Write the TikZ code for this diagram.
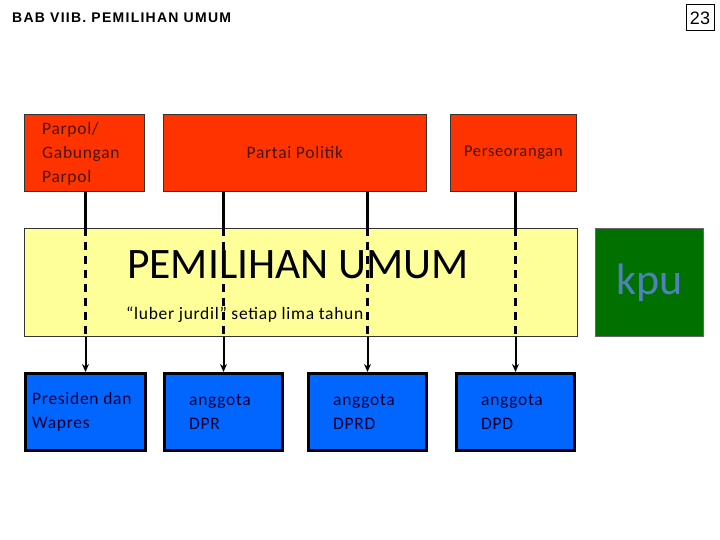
\documentclass[tikz,border=0pt]{standalone}
\usepackage{fontspec}
\setmainfont{Carlito}[LetterSpace=4]
\newfontfamily\bigfont{Carlito}
\newfontfamily\titlefont{Liberation Sans}[LetterSpace=9]
\newfontfamily\pagefont{Liberation Sans}
\usepackage{xcolor}
\usetikzlibrary{positioning,arrows.meta}
\definecolor{partyred}{HTML}{FF3300}
\definecolor{pemiluyellow}{HTML}{FFFF99}
\definecolor{kpugreen}{HTML}{007000}
\definecolor{kpublue}{HTML}{4F81BD}
\definecolor{seatblue}{HTML}{0066FF}
\definecolor{redtext}{HTML}{4A1400}
\tikzset{
  src/.style={draw=black!80, fill=partyred, line width=0.8pt, minimum height=77pt, anchor=north west, inner sep=0pt, font=\fontsize{17.5}{24}\selectfont, text=redtext},
  seat/.style={draw=black, fill=seatblue, line width=3pt, minimum width=118pt, minimum height=77pt, anchor=north west, inner sep=0pt},
  feed/.style={line width=3pt},
  inbox/.style={line width=3pt, dash pattern=on 8pt off 6pt},
  outarr/.style={line width=2pt, -{Stealth[length=8pt,width=7pt]}},
  lbl/.style={inner sep=0pt, anchor=west, align=left, font=\fontsize{17.5}{24}\selectfont},
  seatlbl/.style={lbl, text=black!80!blue}
}
\begin{document}
\begin{tikzpicture}[x=1pt,y=-1pt]
  \useasboundingbox (0,0) rectangle (720,540);
  % header
  \node[anchor=west, inner sep=0pt, font=\titlefont\bfseries\fontsize{14}{14}\selectfont] (title) at (12,18) {BAB VIIB. PEMILIHAN UMUM};
  \node[draw=black, line width=1pt, minimum width=28pt, minimum height=26pt, inner sep=0pt, font=\pagefont\fontsize{18}{20}\selectfont] (page) at (700,18) {23};
  % sources
  \node[src, minimum width=120pt] (gab) at (24,114) {};
  \node[lbl, text=redtext] (gabtxt) at (42,154) {Parpol/\\Gabungan\\Parpol};
  \node[src, minimum width=263pt] (partai) at (163,114) {Partai Politik};
  \node[src, minimum width=126pt, font=\fontsize{16.5}{20}\selectfont] (orang) at (450,114) {Perseorangan};
  % election
  \node[draw=black!80, fill=pemiluyellow, line width=0.8pt, minimum width=553pt, minimum height=108pt, anchor=north west] (pemilu) at (24,228) {};
  \node[lbl, font=\bigfont\fontsize{43.5}{50}\selectfont] (judul) at (127,265) {PEMILIHAN UMUM};
  \node[lbl] (luber) at (126,315) {``luber jurdil'' setiap lima tahun};
  \node[draw=black!60, fill=kpugreen, line width=0.8pt, minimum width=108pt, minimum height=108pt, anchor=north west, font=\bigfont\fontsize{44}{48}\selectfont, text=kpublue] (kpu) at (595,228) {\raisebox{-4pt}{kpu}};
  % results
  \node[seat, minimum width=120pt] (pres) at (24,372) {};
  \node[seatlbl] (prestxt) at (32,412) {Presiden dan\\Wapres};
  \node[seat] (dpr) at (163,372) {};
  \node[seatlbl] (dprtxt) at (189,412) {anggota\\DPR};
  \node[seat] (dprd) at (307,372) {};
  \node[seatlbl] (dprdtxt) at (333,412) {anggota\\DPRD};
  \node[seat] (dpd) at (455,372) {};
  \node[seatlbl] (dpdtxt) at (481,412) {anggota\\DPD};
  % connectors
  \foreach \from/\to in {gab/pres, partai/dpr, partai/dprd, orang/dpd} {
    \draw[feed] (\from.south -| \to) -- (pemilu.north -| \to);
    \draw[inbox] (pemilu.north -| \to) -- (pemilu.south -| \to);
    \draw[outarr] (pemilu.south -| \to) -- (\to.north);
  }
\end{tikzpicture}
\end{document}
